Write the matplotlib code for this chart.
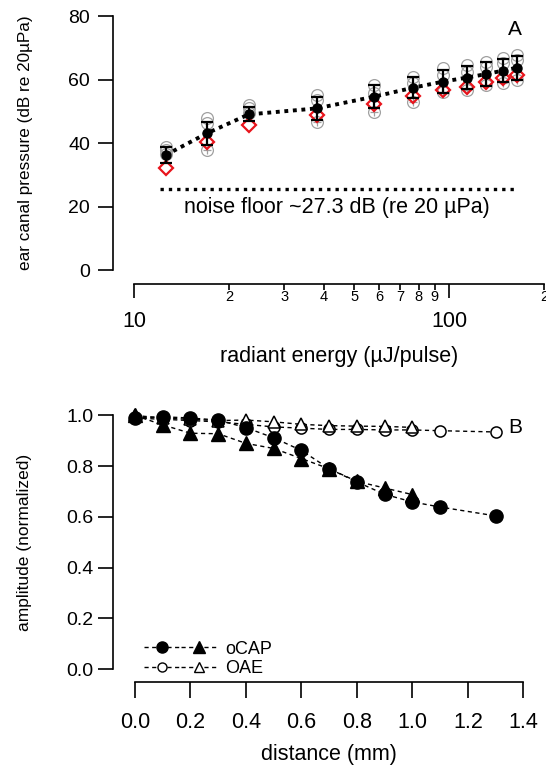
import numpy as np
import matplotlib
matplotlib.use("Agg")
import matplotlib.pyplot as plt
from matplotlib.legend_handler import HandlerTuple
from matplotlib.ticker import FixedLocator, FixedFormatter

plt.rcParams['font.family'] = ['Liberation Sans', 'DejaVu Sans']

# panel A: ear canal pressure vs radiant energy
energy = [12.6, 17.0, 23.1, 38.0, 57.9, 76.7, 95.3, 113.8, 131, 148, 164]
mean_db = [36.2, 43.0, 49.0, 50.9, 54.6, 57.4, 59.3, 60.6, 61.7, 62.8, 63.7]
sd_db = [2.5, 3.7, 2.2, 3.5, 3.7, 3.3, 3.7, 3.7, 3.9, 3.7, 3.7]
red_db = [32.0, 40.4, 45.7, 48.8, 52.2, 54.8, 56.7, 57.7, 59.3, 60.4, 61.4]
gray_hi = [38.8, 47.9, 52.0, 55.1, 58.3, 60.9, 63.5, 64.6, 65.6, 66.7, 67.7]
gray_mid = [37.8, 46.3, 51.0, 53.5, 55.7, 58.8, 61.4, 62.5, 64.0, 65.1, 66.1]
gray_lo = [36.5, 37.8, 49.5, 46.7, 49.9, 53.0, 56.2, 56.7, 58.3, 58.8, 59.8]
noise_x = [12.1, 164]
noise_db = [25.5, 25.5]

# panel B: normalized amplitude vs distance
dist = [0.0, 0.1, 0.2, 0.3, 0.4, 0.5, 0.6, 0.7, 0.8, 0.9, 1.0, 1.1, 1.3]
ocap_circ = [0.99, 0.995, 0.99, 0.982, 0.952, 0.912, 0.862, 0.79, 0.738, 0.689, 0.659, 0.639, 0.604]
oae_circ = [0.99, 0.985, 0.98, 0.975, 0.965, 0.955, 0.95, 0.945, 0.945, 0.943, 0.943, 0.94, 0.935]
dist_tri = [0.0, 0.1, 0.2, 0.3, 0.4, 0.5, 0.6, 0.7, 0.8, 0.9, 1.0]
ocap_tri = [1.0, 0.963, 0.93, 0.928, 0.89, 0.87, 0.83, 0.79, 0.74, 0.714, 0.688]
oae_tri = [1.0, 0.99, 0.985, 0.98, 0.982, 0.975, 0.965, 0.96, 0.958, 0.957, 0.953]

fig = plt.figure(figsize=(5.46, 7.73), dpi=100)

# ---------- panel A ----------
axA = fig.add_axes([0.2454, 0.6507, 0.751, 0.3286])
axA.set_xscale('log')
for g in (gray_hi, gray_mid, gray_lo):
    axA.plot(energy, g, 'o', ms=8.5, mfc='none', mec='#a0a0a0', mew=0.9, zorder=2)
axA.plot(energy, gray_lo, '+', ms=6, mec='#a0a0a0', mew=0.9, zorder=2)
axA.plot(energy, red_db, 'D', ms=7, mfc='none', mec='#e8141c', mew=1.6, zorder=3)
axA.errorbar(energy, mean_db, yerr=sd_db, fmt='o', color='black', ms=6.5,
             capsize=4, elinewidth=1.6, capthick=1.6, zorder=4)
axA.plot(energy, mean_db, color='black', lw=2.8, linestyle=(0, (1, 1.2)), zorder=4)
axA.plot(noise_x, noise_db, color='black', lw=2.4, linestyle=(0, (1, 1.5)))
axA.text(0.496, 0.245, 'noise floor ~27.3 dB (re 20 \u00b5Pa)', transform=axA.transAxes,
         ha='center', va='center', fontsize=15.5)
axA.text(0.929, 0.945, 'A', transform=axA.transAxes, ha='center', va='center', fontsize=15)

axA.set_xlim(10, 200)
axA.set_ylim(0, 80)
axA.set_yticks([0, 20, 40, 60, 80])
axA.xaxis.set_major_locator(FixedLocator([10, 100]))
axA.xaxis.set_major_formatter(FixedFormatter(['10', '100']))
axA.xaxis.set_minor_locator(FixedLocator([20, 30, 40, 50, 60, 70, 80, 90, 200]))
axA.xaxis.set_minor_formatter(FixedFormatter(['2', '3', '4', '5', '6', '7', '8', '9', '2']))
axA.tick_params(axis='x', which='major', length=10, width=1.2, pad=9, labelsize=15.5)
axA.tick_params(axis='x', which='minor', length=4, width=1.2, pad=0, labelsize=10.5)
axA.tick_params(axis='y', length=11, width=1.2, pad=5.5, labelsize=14)
axA.spines['left'].set_position(('outward', 15))
axA.spines['bottom'].set_position(('outward', 10.3))
for s in ('top', 'right'):
    axA.spines[s].set_visible(False)
for s in ('left', 'bottom'):
    axA.spines[s].set_linewidth(1.2)
axA.set_xlabel('radiant energy (\u00b5J/pulse)', fontsize=15.5, labelpad=10)
axA.set_ylabel('ear canal pressure (dB re 20\u00b5Pa)', fontsize=12.3)
axA.yaxis.set_label_coords(-0.247, 0.5)

# ---------- panel B ----------
axB = fig.add_axes([0.2473, 0.1345, 0.7112, 0.328])
dash = (0, (3, 2.5))
c1, = axB.plot(dist, ocap_circ, 'o', ls=dash, color='black', lw=1, ms=9.5, clip_on=False, zorder=4)
t1, = axB.plot(dist_tri, ocap_tri, '^', ls=dash, color='black', lw=1, ms=10, clip_on=False, zorder=4)
c2, = axB.plot(dist, oae_circ, 'o', ls=dash, color='black', lw=1, ms=8, mfc='white',
               mew=1.1, clip_on=False, zorder=3)
t2, = axB.plot(dist_tri, oae_tri, '^', ls=dash, color='black', lw=1, ms=9, mfc='white',
               mew=1.1, clip_on=False, zorder=3)
axB.text(0.979, 0.951, 'B', transform=axB.transAxes, ha='center', va='center', fontsize=15)

axB.set_xlim(0, 1.4)
axB.set_ylim(0, 1.0)
axB.set_xticks(np.arange(0, 1.41, 0.2))
axB.set_yticks(np.arange(0, 1.01, 0.2))
axB.xaxis.set_major_formatter(plt.FormatStrFormatter('%.1f'))
axB.yaxis.set_major_formatter(plt.FormatStrFormatter('%.1f'))
axB.tick_params(axis='x', length=11.5, width=1.2, pad=10, labelsize=15.5)
axB.tick_params(axis='y', length=11, width=1.2, pad=3, labelsize=14)
axB.spines['left'].set_position(('outward', 16))
axB.spines['bottom'].set_position(('outward', 9.1))
for s in ('top', 'right'):
    axB.spines[s].set_visible(False)
for s in ('left', 'bottom'):
    axB.spines[s].set_linewidth(1.2)
axB.set_xlabel('distance (mm)', fontsize=15.5, labelpad=8)
axB.set_ylabel('amplitude (normalized)', fontsize=12.5)
axB.yaxis.set_label_coords(-0.266, 0.5)

# legend: handles drawn smaller, like the reference
l1a, = axB.plot([], [], 'o', ls=dash, color='black', lw=1, ms=8)
l1b, = axB.plot([], [], '^', ls=dash, color='black', lw=1, ms=8.5)
l2a, = axB.plot([], [], 'o', ls=dash, color='black', lw=1, ms=6.5, mfc='white')
l2b, = axB.plot([], [], '^', ls=dash, color='black', lw=1, ms=7.5, mfc='white')
axB.legend([(l1a, l1b), (l2a, l2b)], ['oCAP', 'OAE'],
           handler_map={tuple: HandlerTuple(ndivide=None, pad=0)},
           loc='lower left', bbox_to_anchor=(-0.005, -0.075), frameon=False, fontsize=13,
           handlelength=4.1, handletextpad=0.4, labelspacing=0.15, borderaxespad=0.2)

fig.savefig('out.png', dpi=100)
